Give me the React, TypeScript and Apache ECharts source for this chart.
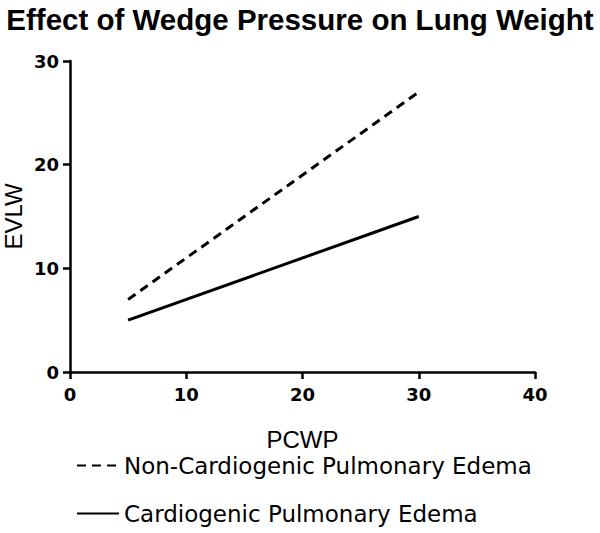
import React, { useEffect, useRef } from "react";
import * as echarts from "echarts";

const titleText = "Effect of Wedge Pressure on Lung Weight";
const xName = "PCWP";
const yName = "EVLW";
const seriesNames = ["Non-Cardiogenic Pulmonary Edema", "Cardiogenic Pulmonary Edema"];
const pcwp = [5, 30];
const nonCardiogenic = [7, 27];
const cardiogenic = [5, 15];

export default function App() {
  const ref = useRef<HTMLDivElement>(null);
  useEffect(() => {
    document.body.style.margin = "0";
    if (!ref.current) return;
    const chart = echarts.init(ref.current, undefined, { renderer: "svg" });
    const axisCommon = {
      axisLine: { show: true, lineStyle: { color: "#000", width: 2.5 } },
      axisTick: { show: true, length: 7, lineStyle: { color: "#000", width: 2.5 } },
      splitLine: { show: false },
      axisLabel: {
        color: "#000",
        fontFamily: "DejaVu Sans",
        fontWeight: "bold",
        fontSize: 18,
      },
      nameTextStyle: { color: "#000", fontFamily: "Liberation Sans" },
    };
    chart.setOption({
      animation: false,
      backgroundColor: "#fff",
      title: {
        text: titleText,
        left: "center",
        top: -1,
        textStyle: {
          fontFamily: "Liberation Sans",
          fontWeight: "bold",
          fontSize: 29.5,
          color: "#000",
        },
      },
      grid: {
        left: 70,
        right: 65,
        top: 61,
        bottom: 161,
        containLabel: false,
        outerBoundsMode: "none",
      },
      xAxis: {
        type: "value",
        min: 0,
        max: 40,
        interval: 10,
        name: xName,
        nameLocation: "middle",
        nameGap: 55,
        nameMoveOverlap: false,
        ...axisCommon,
        axisLabel: { ...axisCommon.axisLabel, margin: 13 },
        nameTextStyle: { ...axisCommon.nameTextStyle, fontSize: 24 },
      },
      yAxis: {
        type: "value",
        min: 0,
        max: 30,
        interval: 10,
        name: yName,
        nameLocation: "middle",
        nameGap: 45,
        nameMoveOverlap: false,
        nameRotate: 90,
        ...axisCommon,
        axisLabel: { ...axisCommon.axisLabel, margin: 11 },
        nameTextStyle: { ...axisCommon.nameTextStyle, fontSize: 24 },
      },
      legend: {
        orient: "vertical",
        left: 76,
        top: 454,
        height: 90,
        padding: 0,
        itemWidth: 42,
        itemHeight: 14,
        itemGap: 25,
        itemStyle: { opacity: 0 },
        textStyle: { fontFamily: "DejaVu Sans", fontSize: 23, color: "#000" },
        data: seriesNames,
      },
      series: [
        {
          name: seriesNames[0],
          type: "line",
          symbol: "none",
          data: pcwp.map((x, i) => [x, nonCardiogenic[i]]),
          lineStyle: { color: "#000", width: 3, type: [9, 6] },
          itemStyle: { color: "#000" },
        },
        {
          name: seriesNames[1],
          type: "line",
          symbol: "none",
          data: pcwp.map((x, i) => [x, cardiogenic[i]]),
          lineStyle: { color: "#000", width: 3, type: "solid" },
          itemStyle: { color: "#000" },
        },
      ],
    });
    return () => chart.dispose();
  }, []);
  return <div ref={ref} style={{ width: 600, height: 533 }} />;
}
